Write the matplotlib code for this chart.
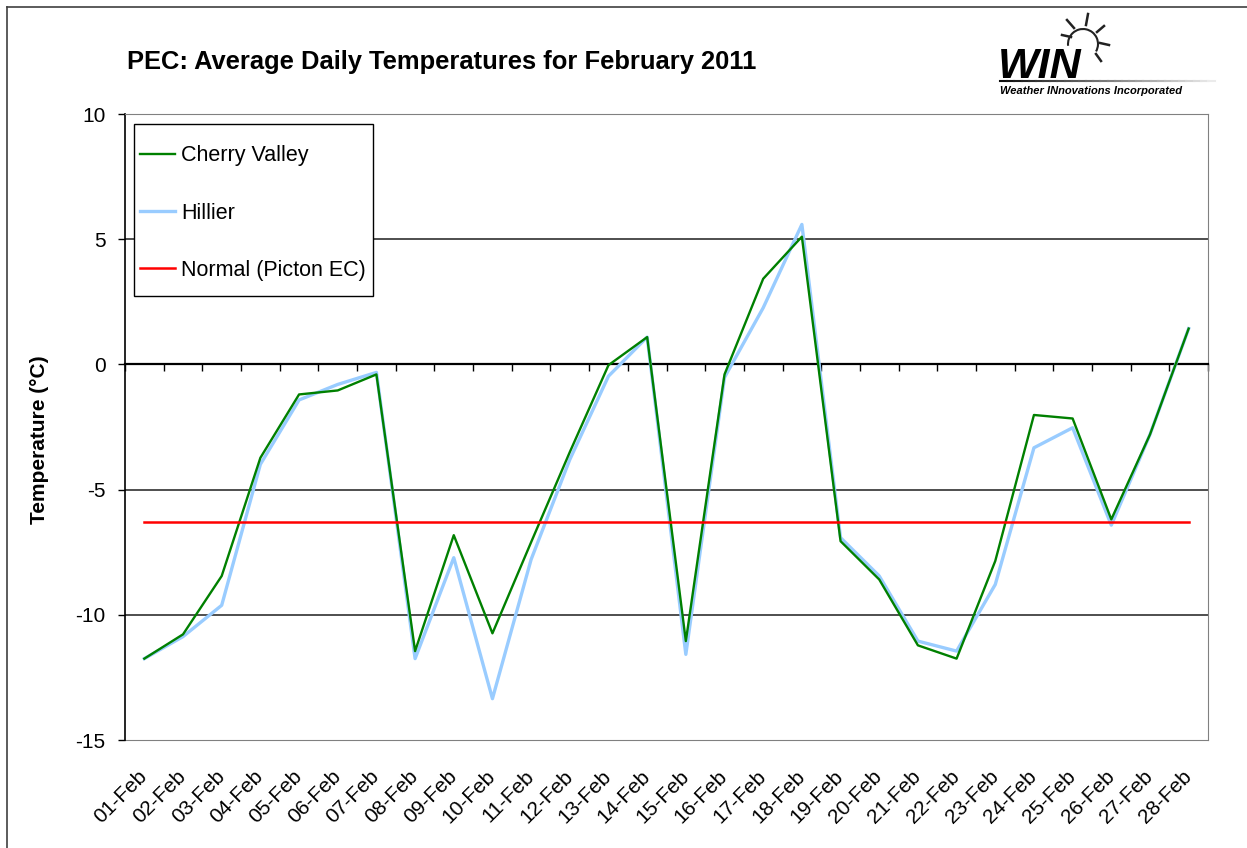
import numpy as np
import matplotlib
matplotlib.use('Agg')
import matplotlib.pyplot as plt
from matplotlib.lines import Line2D
from matplotlib.patches import Arc, Rectangle

plt.rcParams['font.family'] = ['Liberation Sans', 'DejaVu Sans']
plt.rcParams['axes.unicode_minus'] = False

# Datos
dias = ['01-Feb', '02-Feb', '03-Feb', '04-Feb', '05-Feb', '06-Feb', '07-Feb',
        '08-Feb', '09-Feb', '10-Feb', '11-Feb', '12-Feb', '13-Feb', '14-Feb',
        '15-Feb', '16-Feb', '17-Feb', '18-Feb', '19-Feb', '20-Feb', '21-Feb',
        '22-Feb', '23-Feb', '24-Feb', '25-Feb', '26-Feb', '27-Feb', '28-Feb']
cherry_valley = [-11.75, -10.78, -8.45, -3.73, -1.2, -1.04, -0.4,
                 -11.45, -6.82, -10.74, -7.1, -3.5, -0.03, 1.09,
                 -11.05, -0.4, 3.42, 5.1, -7.06, -8.59, -11.22,
                 -11.75, -7.85, -2.02, -2.16, -6.19, -2.8, 1.43]
hillier = [-11.75, -10.87, -9.62, -3.99, -1.42, -0.8, -0.32,
           -11.75, -7.72, -13.35, -7.79, -3.8, -0.47, 1.09,
           -11.58, -0.52, 2.26, 5.59, -6.92, -8.45, -11.05,
           -11.45, -8.79, -3.33, -2.53, -6.42, -2.8, 1.43]
normal_picton = [-6.3] * 28

W, H = 1247, 848
fig = plt.figure(figsize=(W / 100, H / 100), dpi=100)
ax = fig.add_axes([125 / W, 1 - 740 / H, 1083 / W, 626 / H])

def px(x, y):
    return x / W, 1 - y / H

x = np.arange(len(dias))
ax.plot(x, hillier, color='#99CCFF', lw=2.4, label='Hillier', zorder=3)
ax.plot(x, cherry_valley, color='#008000', lw=1.7, label='Cherry Valley', zorder=4)
ax.plot(x, normal_picton, color='#FF0000', lw=1.8, label='Normal (Picton EC)', zorder=5)

ax.set_xlim(-0.5, len(dias) - 0.5)
ax.set_ylim(-15, 10)
ax.set_yticks([-15, -10, -5, 0, 5, 10])
ax.tick_params(axis='y', direction='out', length=5, width=1, pad=9, labelsize=15)
for v in [-10, -5, 5]:
    ax.axhline(v, color='#404040', lw=1.3, zorder=1)

# eje x en cero con marcas entre categorías
ax.spines['bottom'].set_position(('data', 0))
ax.spines['bottom'].set_color('black')
ax.spines['bottom'].set_linewidth(1.6)
ax.set_xticks(np.arange(-0.5, len(dias)), labels=[])
ax.tick_params(axis='x', direction='out', length=5, width=1)
ax.spines['left'].set_color('black')
ax.spines['left'].set_linewidth(1.2)
ax.spines['top'].set_color('#808080')
ax.spines['right'].set_color('#808080')

# etiquetas de fecha abajo
sec = ax.secondary_xaxis('bottom')
sec.set_xticks(x, labels=dias)
sec.tick_params(length=0, pad=24, labelsize=15)
for lab in sec.get_xticklabels():
    lab.set_rotation(45)
    lab.set_ha('right')
    lab.set_va('center')
    lab.set_rotation_mode('anchor')
sec.spines['bottom'].set_color('#808080')

# caja de la leyenda dibujada aparte
caja = Rectangle((9 / 1083, (740 - 296) / 626), 239 / 1083, 172 / 626,
                 transform=ax.transAxes, facecolor='white', edgecolor='black',
                 lw=1, zorder=9)
ax.add_patch(caja)

handles, labels = ax.get_legend_handles_labels()
orden = [1, 0, 2]
leg = ax.legend([handles[i] for i in orden], [labels[i] for i in orden],
                loc='upper left', bbox_to_anchor=(8.5 / 1083, 1 - 25 / 626),
                borderaxespad=0, fontsize=15.5, labelspacing=1.68,
                handlelength=1.65, handletextpad=0.25, borderpad=0.3,
                frameon=False)
leg.set_zorder(10)

fig.text(*px(127, 62), 'PEC: Average Daily Temperatures for February 2011',
         fontsize=18.4, weight='bold', va='center', ha='left')
fig.text(*px(40, 440), 'Temperature (°C)', fontsize=15, weight='bold',
         rotation=90, va='center', ha='center')

# marco exterior
fig.add_artist(Line2D([px(7, 0)[0], px(7, 0)[0]], [px(0, 7)[1], 0], color='#404040', lw=1.2))
fig.add_artist(Line2D([px(7, 0)[0], 1], [px(0, 7)[1], px(0, 7)[1]], color='#404040', lw=1.2))

# logo WIN
fig.text(*px(998, 78), 'WIN', fontsize=31, weight='bold', style='italic',
         ha='left', va='baseline')
fig.text(*px(1000, 91), 'Weather INnovations Incorporated', fontsize=8,
         weight='bold', style='italic', ha='left', va='center')
n = 30
for i in range(n):
    x0 = 1000 + i * 215 / n
    x1 = 1000 + (i + 1) * 215 / n
    g = 0.05 + 0.9 * i / n
    fig.add_artist(Line2D([x0 / W, x1 / W], [px(0, 81)[1]] * 2, color=str(g), lw=1.5))
cx, cy = px(1083, 44)
fig.add_artist(Arc((cx, cy), 30 / W, 30 / H, theta1=-40, theta2=190, color='#222222', lw=1.5))
rayos = [((1062, 35), (1071, 37)), ((1067, 20), (1074, 28)), ((1088, 14), (1086, 25)),
         ((1104, 26), (1097, 32)), ((1109, 45), (1100, 43)), ((1101, 61), (1096, 54))]
for (a, b) in rayos:
    fig.add_artist(Line2D([a[0] / W, b[0] / W], [px(0, a[1])[1], px(0, b[1])[1]],
                          color='#222222', lw=1.8))

fig.savefig('out.png', dpi=100)
